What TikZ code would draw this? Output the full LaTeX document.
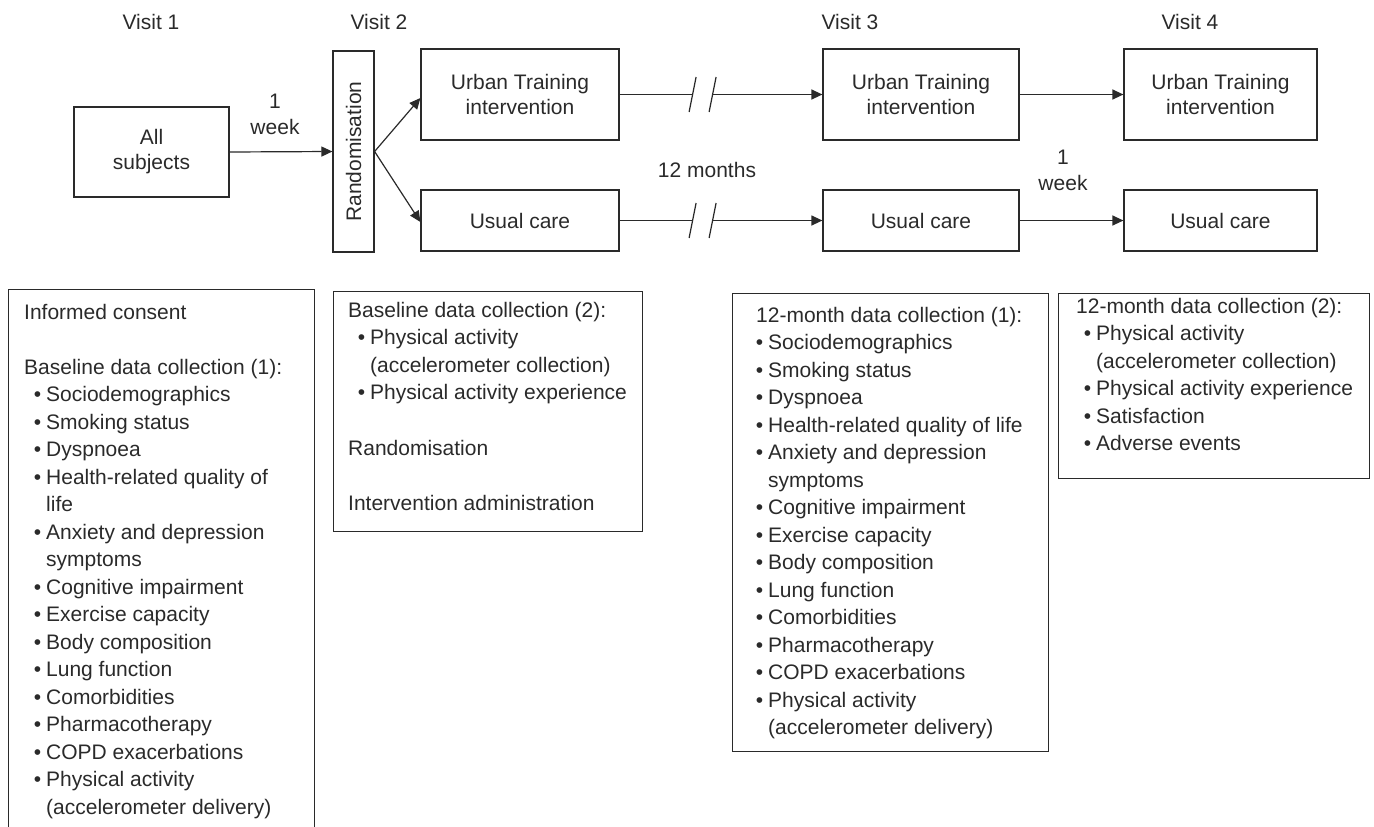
\documentclass[tikz,border=0pt]{standalone}
\usepackage{fontspec}
\setmainfont{Liberation Sans}
\usepackage{xcolor}
\usetikzlibrary{arrows.meta}
\definecolor{ink}{HTML}{2A2A2A}
\newlength\itemgap
\setlength\itemgap{22pt}
\newcommand{\itm}[1]{\makebox[\itemgap][r]{\textbullet\hspace{5pt}}#1}
\newcommand{\cnt}[1]{\hspace*{\itemgap}#1}

\begin{document}
\begin{tikzpicture}[x=1pt,y=-1pt,
	line/.style={draw=ink,line width=1.2pt},
	arr/.style={line,-{Triangle[length=11pt,width=10pt]}},
	box/.style={line,rectangle,inner sep=0pt,align=center,text=ink,font=\fontsize{21}{25}\selectfont},
	panel/.style={line,rectangle,inner sep=0pt,anchor=north west},
	list/.style={inner sep=0pt,anchor=north west,align=left,text=ink,font=\fontsize{21}{27.5}\selectfont\setlength\itemgap{#1}},
	list/.default=22pt,
	lab/.style={text=ink,align=center,font=\fontsize{21}{26}\selectfont}]
	\useasboundingbox (0,0) rectangle (1374,827);

	\node[lab] (visit1) at (151,22) {Visit 1};
	\node[lab] (visit2) at (379,22) {Visit 2};
	\node[lab] (visit3) at (850,22) {Visit 3};
	\node[lab] (visit4) at (1190,22) {Visit 4};

	\node[box,minimum width=155pt,minimum height=90pt] (allsub) at (151.5,152) {All\\subjects};
	\node[box,minimum width=41pt,minimum height=201pt] (rand) at (353.5,151.5) {\rotatebox{90}{Randomisation}};
	\node[box,minimum width=198pt,minimum height=91pt] (ut1) at (520,94.5) {Urban Training\\intervention};
	\node[box,minimum width=198pt,minimum height=61pt] (uc1) at (520,220.5) {Usual care};
	\node[box,minimum width=196pt,minimum height=91pt] (ut3) at (921,94.5) {Urban Training\\intervention};
	\node[box,minimum width=196pt,minimum height=61pt] (uc3) at (921,220.5) {Usual care};
	\node[box,minimum width=193pt,minimum height=91pt] (ut4) at (1220.5,94.5) {Urban Training\\intervention};
	\node[box,minimum width=193pt,minimum height=61pt] (uc4) at (1220.5,220.5) {Usual care};

	\node[lab] (week1) at (275,114) {1\\week};
	\node[lab] (months) at (707,170) {12 months};
	\node[lab] (week2) at (1063,170) {1\\week};

	\draw[arr] (allsub.east) -- (rand.west);
	\draw[arr] (rand.east) -- ([yshift=-3.5pt]ut1.west);
	\draw[arr] (rand.east) -- ([yshift=-1.5pt]uc1.west);

	\coordinate (cut1) at ([xshift=73pt]ut1.east);
	\coordinate (cut2) at ([xshift=93pt]ut1.east);
	\coordinate (cut3) at ([xshift=73pt]uc1.east);
	\coordinate (cut4) at ([xshift=93pt]uc1.east);
	\draw[line] (ut1.east) -- (cut1);
	\draw[arr] (cut2) -- (ut3.west);
	\draw[line] (uc1.east) -- (cut3);
	\draw[arr] (cut4) -- (uc3.west);
	\foreach \c in {cut1,cut2,cut3,cut4}
		\draw[line] ([shift={(-3.5,17.5)}]\c) -- ([shift={(3.5,-17.5)}]\c);

	\draw[arr] (ut3.east) -- (ut4.west);
	\draw[arr] (uc3.east) -- (uc4.west);

	\node[panel,minimum width=306pt,minimum height=560pt] (panel1) at (8,289) {};
	\node[panel,minimum width=309pt,minimum height=240pt] (panel2) at (333,291) {};
	\node[panel,minimum width=316pt,minimum height=458pt] (panel3) at (732,293) {};
	\node[panel,minimum width=311pt,minimum height=185pt] (panel4) at (1058,293) {};

	\node[list] (list1) at (24,299.75) {\strut Informed consent\\[27.5pt]
		Baseline data collection (1):\\
		\itm{Sociodemographics}\\
		\itm{Smoking status}\\
		\itm{Dyspnoea}\\
		\itm{Health-related quality of}\\
		\cnt{life}\\
		\itm{Anxiety and depression}\\
		\cnt{symptoms}\\
		\itm{Cognitive impairment}\\
		\itm{Exercise capacity}\\
		\itm{Body composition}\\
		\itm{Lung function}\\
		\itm{Comorbidities}\\
		\itm{Pharmacotherapy}\\
		\itm{COPD exacerbations}\\
		\itm{Physical activity}\\
		\cnt{(accelerometer delivery)}};
	\node[list] (list2) at (348,297.75) {\strut Baseline data collection (2):\\
		\itm{Physical activity}\\
		\cnt{(accelerometer collection)}\\
		\itm{Physical activity experience}\\[28pt]
		Randomisation\\[28pt]
		Intervention administration};
	\node[list=12pt] (list3) at (756,302.75) {\strut 12-month data collection (1):\\
		\itm{Sociodemographics}\\
		\itm{Smoking status}\\
		\itm{Dyspnoea}\\
		\itm{Health-related quality of life}\\
		\itm{Anxiety and depression}\\
		\cnt{symptoms}\\
		\itm{Cognitive impairment}\\
		\itm{Exercise capacity}\\
		\itm{Body composition}\\
		\itm{Lung function}\\
		\itm{Comorbidities}\\
		\itm{Pharmacotherapy}\\
		\itm{COPD exacerbations}\\
		\itm{Physical activity}\\
		\cnt{(accelerometer delivery)}};
	\node[list=20pt] (list4) at (1076,293.75) {\strut 12-month data collection (2):\\
		\itm{Physical activity}\\
		\cnt{(accelerometer collection)}\\
		\itm{Physical activity experience}\\
		\itm{Satisfaction}\\
		\itm{Adverse events}};
\end{tikzpicture}
\end{document}
